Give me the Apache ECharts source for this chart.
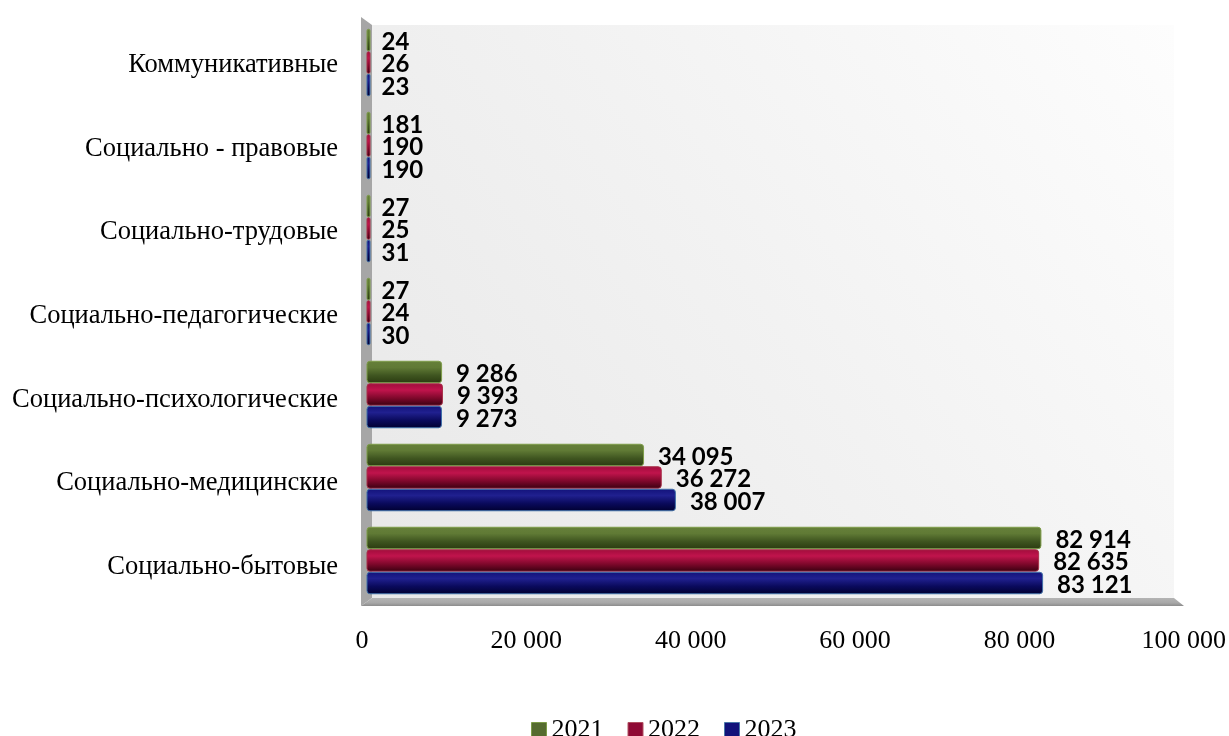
<!DOCTYPE html>
<html><head><meta charset="utf-8">
<style>html,body{margin:0;padding:0;background:#fff}#c{width:1229px;height:736px}</style>
<script src="https://cdn.jsdelivr.net/npm/echarts@6/dist/echarts.min.js"></script></head>
<body><div id="c"></div>
<script>
var categories = ['Социально-бытовые','Социально-медицинские','Социально-психологические','Социально-педагогические','Социально-трудовые','Социально - правовые','Коммуникативные'];
var values2021 = [82914,34095,9286,27,27,181,24];
var values2022 = [82635,36272,9393,24,25,190,26];
var values2023 = [83121,38007,9273,30,31,190,23];
var fmt = function(v){ return String(v).replace(/\B(?=(\d{3})+$)/g,' '); };
function grad(stops){ return {type:'linear',x:0,y:0,x2:0,y2:1,colorStops:stops.map(function(c){return {offset:c[0],color:c[1]};})}; }
function mk(name,data,stops,border){
  return {name:name,type:'bar',xAxisIndex:0,yAxisIndex:0,barWidth:22.5,barGap:'0%',barMinHeight:4,
    data:data.map(function(v){ return v<1000 ? {value:v,label:{distance:11}} : v; }),
    itemStyle:{color:grad(stops),borderColor:border,borderWidth:1,borderRadius:3},
    label:{show:true,position:'right',distance:14,offset:[0,2],formatter:function(p){return fmt(p.value);},
      fontFamily:'Lato',fontWeight:'bold',fontSize:24,color:'#000'}};
}
var chart = echarts.init(document.getElementById('c'),null,{renderer:'canvas'});
chart.setOption({
  animation:false,
  backgroundColor:'#fff',
  graphic:[
    {type:'polygon',z:-1,shape:{points:[[372,25],[1174,25],[1174,598],[372,598]]},
     style:{fill:{type:'linear',x:0,y:1,x2:1,y2:0,colorStops:[{offset:0,color:'#e8e8e8'},{offset:0.5,color:'#f2f2f2'},{offset:1,color:'#fdfdfd'}]}}},
    {type:'polygon',z:-1,shape:{points:[[361,17],[372,25],[372,598],[361,606]]},style:{fill:'#a6a6a6'}},
    {type:'polygon',z:-1,shape:{points:[[361,606],[372,598],[1174,598],[1184,606]]},
     style:{fill:{type:'linear',x:0,y:0,x2:0,y2:1,colorStops:[{offset:0,color:'#b4b4b4'},{offset:0.6,color:'#a8a8a8'},{offset:1,color:'#8c8c8c'}]}}}
  ],
  grid:[
    {left:366.5,width:814,top:21,height:581},
    {left:362,width:822,top:23,height:586}
  ],
  xAxis:[
    {type:'value',gridIndex:0,min:0,max:100000,interval:20000,show:false},
    {type:'value',gridIndex:1,min:0,max:100000,interval:20000,axisLine:{show:false},axisTick:{show:false},splitLine:{show:false},
     axisLabel:{margin:19,formatter:fmt,fontFamily:'Liberation Serif',fontSize:26,color:'#000',hideOverlap:false}}
  ],
  yAxis:[
    {type:'category',gridIndex:0,data:categories,show:false},
    {type:'category',gridIndex:1,data:categories,axisLine:{show:false},axisTick:{show:false},
     axisLabel:{margin:24,fontFamily:'Liberation Serif',fontSize:26.5,color:'#000',interval:0}}
  ],
  legend:{show:true,left:526,top:712,itemWidth:15,itemHeight:15,itemGap:24,icon:'rect',
    data:[
      {name:'2021',itemStyle:{color:'#556b2f',borderColor:'#7d9c48',borderWidth:1}},
      {name:'2022',itemStyle:{color:'#8f0a35',borderColor:'#b05060',borderWidth:1}},
      {name:'2023',itemStyle:{color:'#12127a',borderColor:'#4a78a8',borderWidth:1}}
    ],
    textStyle:{fontFamily:'Liberation Serif',fontSize:26,color:'#000'}},
  series:[
    mk('2021',values2021,[[0,'#66803a'],[0.3,'#607a35'],[0.65,'#3f5520'],[1,'#2a3a10']],'#7d9c48'),
    mk('2022',values2022,[[0,'#a00c3c'],[0.3,'#c0144c'],[0.65,'#80082c'],[1,'#380010']],'#a83048'),
    mk('2023',values2023,[[0,'#12127a'],[0.3,'#20208f'],[0.65,'#0a0a5c'],[1,'#000030']],'#3f6fa8')
  ]
});
</script></body></html>
